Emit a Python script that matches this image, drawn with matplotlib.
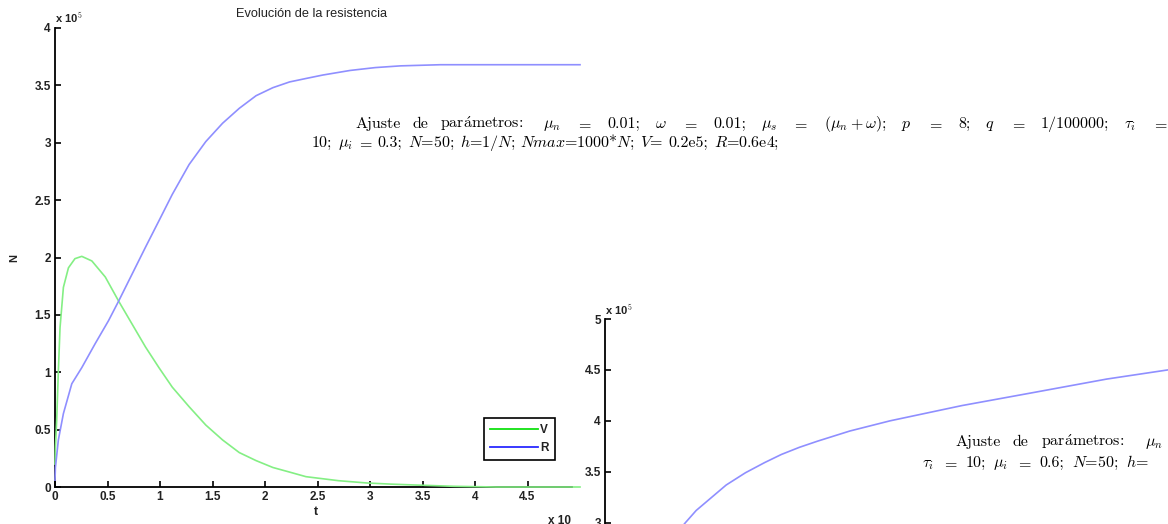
import numpy as np
import matplotlib
matplotlib.use("Agg")
import matplotlib.pyplot as plt
from matplotlib.lines import Line2D

# V and R readings (units of 1e5) for the left panel
t_v = [0.0, 0.004, 0.016, 0.032, 0.048, 0.08, 0.128, 0.19, 0.255, 0.351,
       0.479, 0.606, 0.734, 0.862, 0.99, 1.117, 1.277, 1.436, 1.596, 1.755,
       1.915, 2.075, 2.234, 2.39, 2.7, 2.97, 3.2, 3.44, 3.8, 4.2, 5.0]
v_vals = [0.2, 0.35, 0.58, 1.01, 1.39, 1.74, 1.91, 1.99, 2.01, 1.97,
          1.83, 1.62, 1.42, 1.22, 1.04, 0.87, 0.70, 0.54, 0.41, 0.30,
          0.23, 0.17, 0.13, 0.09, 0.055, 0.035, 0.025, 0.017, 0.006, 0.0, 0.0]

t_r = [0.0, 0.004, 0.032, 0.08, 0.16, 0.255, 0.383, 0.51, 0.606, 0.734,
       0.862, 0.99, 1.117, 1.277, 1.436, 1.596, 1.755, 1.915, 2.075, 2.234,
       2.39, 2.55, 2.81, 3.05, 3.29, 3.67, 4.2, 5.0]
r_vals = [0.06, 0.17, 0.41, 0.64, 0.90, 1.04, 1.25, 1.45, 1.62, 1.855,
          2.09, 2.32, 2.55, 2.81, 3.01, 3.17, 3.30, 3.41, 3.48, 3.53,
          3.56, 3.59, 3.63, 3.655, 3.67, 3.68, 3.68, 3.68]

# second run (mu_i = 0.6), only the upper part of R
t_r2 = [0.6, 0.67, 0.76, 0.86, 1.01, 1.17, 1.33, 1.47, 1.62, 1.77,
        2.04, 2.375, 2.975, 3.58, 4.18, 4.69, 5.0]
r2_vals = [2.9, 3.0, 3.12, 3.22, 3.37, 3.49, 3.59, 3.67, 3.74, 3.80,
           3.90, 4.0, 4.15, 4.28, 4.41, 4.5, 4.55]

x_ticks = [0, 0.5, 1, 1.5, 2, 2.5, 3, 3.5, 4, 4.5]
y_ticks_left = [0, 0.5, 1, 1.5, 2, 2.5, 3, 3.5, 4]
y_ticks_right = [3, 3.5, 4, 4.5, 5]

# caption lines as (word, glue after):
# 'w' word space, 's' space after ';', 'c' space after ':', 't' space around '='
PARAM = r"par$\mathrm{\acute{a}}$metros:"
line1 = [("Ajuste", 'w'), ("de", 'w'), (PARAM, 'c'),
         (r"$\mu_n$", 't'), ("$=$", 't'), ("0.01;", 's'),
         (r"$\omega$", 't'), ("$=$", 't'), ("0.01;", 's'),
         (r"$\mu_s$", 't'), ("$=$", 't'), (r"$(\mu_n + \omega)$;", 's'),
         ("$p$", 't'), ("$=$", 't'), ("8;", 's'),
         ("$q$", 't'), ("$=$", 't'), ("1/100000;", 's'),
         (r"$\tau_i$", 't'), ("$=$", None)]
line2 = [("10;", 's'), (r"$\mu_i$", 't'), ("$=$", 't'), ("0.3;", 's'),
         ("$N$=50;", 's'), ("$h$=1/$N$;", 's'), ("$Nmax$=1000*$N$;", 's'),
         ("$V$=", 'w'), ("0.2e5;", 's'), ("$R$=0.6e4;", None)]
line3 = [("Ajuste", 'w'), ("de", 'w'), (PARAM, 'c'), (r"$\mu_n$", None)]
line4 = [(r"$\tau_i$", 't'), ("$=$", 't'), ("10;", 's'),
         (r"$\mu_i$", 't'), ("$=$", 't'), ("0.6;", 's'),
         ("$N$=50;", 's'), ("$h$=", None)]

W, H = 1168, 524
plt.rcParams['mathtext.fontset'] = 'cm'
plt.rcParams['font.family'] = ['Liberation Sans', 'DejaVu Sans']

fig = plt.figure(figsize=(W / 100, H / 100), dpi=100)
fig.patch.set_facecolor('white')

def fx(px):
    return px / W

def fy(py):
    return 1 - py / H

tick_color = '#222222'
tick_font = dict(fontsize=8.5, fontweight='bold', color=tick_color)

# left panel
ax1 = fig.add_axes([fx(55), fy(487), 525 / W, 459 / H])
ax1.plot(t_v, v_vals, color='#84ef84', lw=1.2, zorder=3, clip_on=False)
ax1.plot(t_r, r_vals, color='#8f8fff', lw=1.2, zorder=3, clip_on=False)
ax1.set_xlim(0, 5)
ax1.set_ylim(0, 4)
ax1.set_xticks(x_ticks)
ax1.set_xticklabels([f"{v:g}" for v in x_ticks], **tick_font)
ax1.set_yticks(y_ticks_left)
ax1.set_yticklabels([f"{v:g}" for v in y_ticks_left], **tick_font)
for s in ['top', 'right']:
    ax1.spines[s].set_visible(False)
for s in ['left', 'bottom']:
    ax1.spines[s].set_linewidth(1.3)
ax1.spines['bottom'].set_bounds(0, 4.92)
ax1.tick_params(direction='in', length=4, width=1.2, pad=3)

leg = ax1.legend(handles=[Line2D([], [], color='#10e010', lw=1.3),
                          Line2D([], [], color='#2a2aff', lw=1.3)],
                 labels=['V', 'R'], loc='upper left',
                 bbox_to_anchor=(fx(484), fy(418)), bbox_transform=fig.transFigure,
                 fancybox=False, framealpha=1, edgecolor='black',
                 handlelength=4.0, handletextpad=0.2, labelspacing=0.45,
                 borderpad=0.55, borderaxespad=0,
                 prop=dict(size=8.5, weight='bold'))
leg.get_frame().set_linewidth(1.2)
for txt in leg.get_texts():
    txt.set_color(tick_color)

fig.text(fx(312), fy(14), "Evolución de la resistencia", ha='center', va='center',
         fontsize=9.2, color='#222222')
fig.text(fx(55), fy(22), r"x 10$^{5}$", ha='left', va='baseline',
         fontsize=8, fontweight='bold', color=tick_color)
fig.text(fx(14), fy(258), "N", ha='center', va='center', rotation=90,
         fontsize=8, fontweight='bold', color=tick_color)
fig.text(fx(316), fy(512), "t", ha='center', va='center',
         fontsize=9, fontweight='bold', color=tick_color)
fig.text(fx(548), fy(521), "x 10", ha='left', va='center',
         fontsize=8.5, fontweight='bold', color=tick_color)

# right panel (lower part falls below the page edge)
ax2 = fig.add_axes([fx(605), fy(573.6), 600 / W, 254.6 / H])
ax2.plot(t_r2, r2_vals, color='#8f8fff', lw=1.2)
ax2.set_xlim(0, 5)
ax2.set_ylim(2.5, 5)
ax2.set_xticks([])
ax2.set_yticks(y_ticks_right)
ax2.set_yticklabels([f"{v:g}" for v in y_ticks_right], **tick_font)
for s in ['top', 'right', 'bottom']:
    ax2.spines[s].set_visible(False)
ax2.spines['left'].set_linewidth(1.3)
ax2.tick_params(direction='in', length=4, width=1.2, pad=3)
ax2.patch.set_alpha(0)
fig.text(fx(605), fy(314), r"x 10$^{5}$", ha='left', va='baseline',
         fontsize=8, fontweight='bold', color=tick_color)

# parameter captions, spaced like a justified paragraph
serif = ['cmr10', 'DejaVu Serif']
cap_size = 11.5
em = cap_size * 100 / 72
glue_nat = {'w': 0.333, 's': 0.333, 'c': 0.444, 't': 0.278}
glue_str = {'w': 0.166, 's': 0.25, 'c': 0.333, 't': 0.278}
renderer = fig.canvas.get_renderer()

def word_width(s):
    t = fig.text(0, 0, s, family=serif, fontsize=cap_size)
    w = t.get_window_extent(renderer).width
    t.remove()
    return w

def start_of(words, k, x0, r):
    # left edge of word k (k == len(words) gives the end of the line)
    x = x0
    for s, g in words[:k]:
        x += word_width(s)
        if g:
            x += (glue_nat[g] + r * glue_str[g]) * em
    return x

def stretch_to(words, k, x0, target):
    a = start_of(words, k, x0, 0.0)
    b = start_of(words, k, x0, 1.0)
    return (target - a) / (b - a)

def set_line(words, x0, y, r):
    x = x0
    for s, g in words:
        fig.text(fx(x), fy(y), s, family=serif, fontsize=cap_size,
                 ha='left', va='baseline')
        x += word_width(s)
        if g:
            x += (glue_nat[g] + r * glue_str[g]) * em

set_line(line1, 355, 128, stretch_to(line1, len(line1), 355, 1168))
set_line(line2, 312, 147, 0.0)
set_line(line3, 955, 446, stretch_to(line3, 3, 955, 1145))
set_line(line4, 922, 467, stretch_to(line4, 7, 922, 1126))

fig.savefig('out.png', dpi=100)
